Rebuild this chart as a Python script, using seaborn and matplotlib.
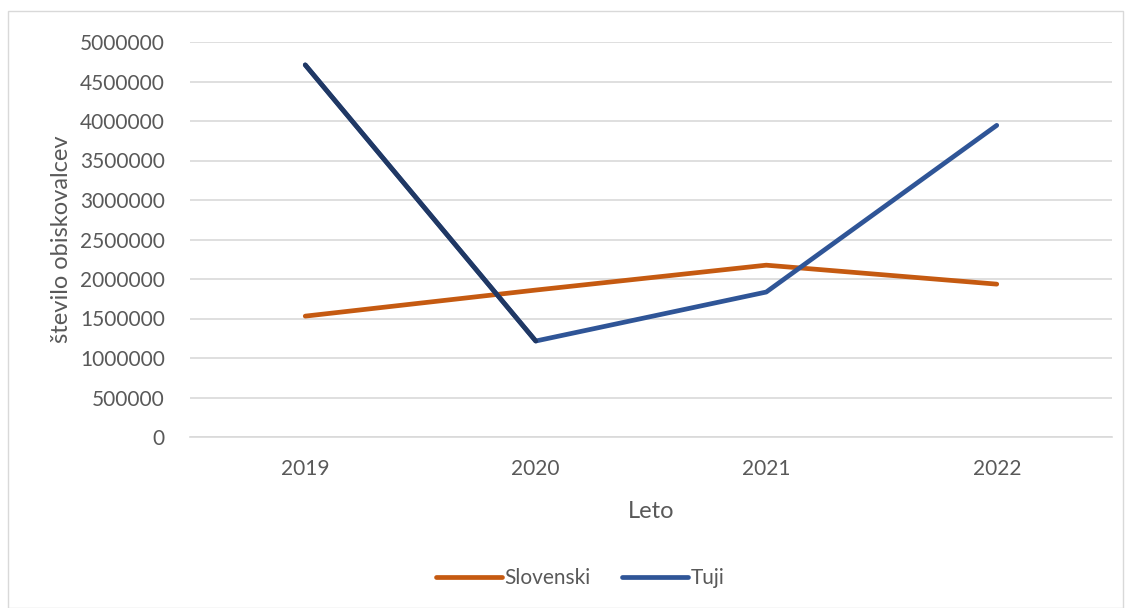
import pandas as pd
import matplotlib.pyplot as plt
import seaborn as sns
from matplotlib.patches import Rectangle
from matplotlib.lines import Line2D

# Data
leta = ["2019", "2020", "2021", "2022"]
slovenski = [1530000, 1860000, 2175000, 1935000]
tuji = [4710000, 1215000, 1835000, 3945000]

df = pd.DataFrame({
    "Leto": leta * 2,
    "Obiskovalci": slovenski + tuji,
    "Skupina": ["Slovenski"] * 4 + ["Tuji"] * 4,
})

sns.set_theme(style="white")
plt.rcParams['font.family'] = ['Lato', 'DejaVu Sans']

colors = {"Slovenski": "#C55A11", "Tuji": "#2F5597"}
text_col = "#595959"

fig = plt.figure(figsize=(11.31, 6.08), dpi=100)
ax = fig.add_axes([190 / 1131, 1 - 437 / 608, 922 / 1131, 395 / 608])

sns.lineplot(data=df, x="Leto", y="Obiskovalci", hue="Skupina", palette=colors,
             linewidth=3.4, sort=False, ax=ax, legend=False,
             solid_capstyle="round", solid_joinstyle="round")

# first segment of the Tuji series is drawn darker in the original
first = df[(df["Skupina"] == "Tuji") & (df["Leto"].isin(leta[:2]))]
sns.lineplot(data=first, x="Leto", y="Obiskovalci", color="#203864", linewidth=3.4,
             sort=False, ax=ax, solid_capstyle="round", zorder=3)

ax.set_xlim(-0.5, 3.5)
ax.set_ylim(0, 5000000)
ax.set_yticks(range(0, 5000001, 500000))
ax.yaxis.set_major_formatter(plt.FuncFormatter(lambda v, p: f"{int(v)}"))
ax.grid(axis="y", color="#D9D9D9", linewidth=1.2)
ax.set_axisbelow(True)
for s in ["top", "right", "left"]:
    ax.spines[s].set_visible(False)
ax.spines["bottom"].set_color("#D9D9D9")
ax.spines["bottom"].set_linewidth(1.2)
ax.tick_params(axis="both", length=0, labelsize=15, labelcolor=text_col)
ax.tick_params(axis="y", pad=18)
ax.tick_params(axis="x", pad=16)

ax.set_xlabel("Leto", fontsize=17, color=text_col, labelpad=16)
ax.set_ylabel("število obiskovalcev", fontsize=17, color=text_col, labelpad=6)

handles = [Line2D([0], [0], color=colors[k], linewidth=3.4, solid_capstyle="round") for k in colors]
fig.legend(handles, list(colors), loc="center", bbox_to_anchor=(580 / 1131, 1 - 578 / 608),
           ncol=2, frameon=False, fontsize=15, labelcolor=text_col,
           handlelength=3.2, handletextpad=0.1, columnspacing=1.5)

fig.patches.append(Rectangle((8 / 1131, 0), 1 - 16 / 1131, 1 - 11 / 608,
                             transform=fig.transFigure, fill=False,
                             edgecolor="#D9D9D9", linewidth=1))

fig.savefig("out.png", dpi=100)
